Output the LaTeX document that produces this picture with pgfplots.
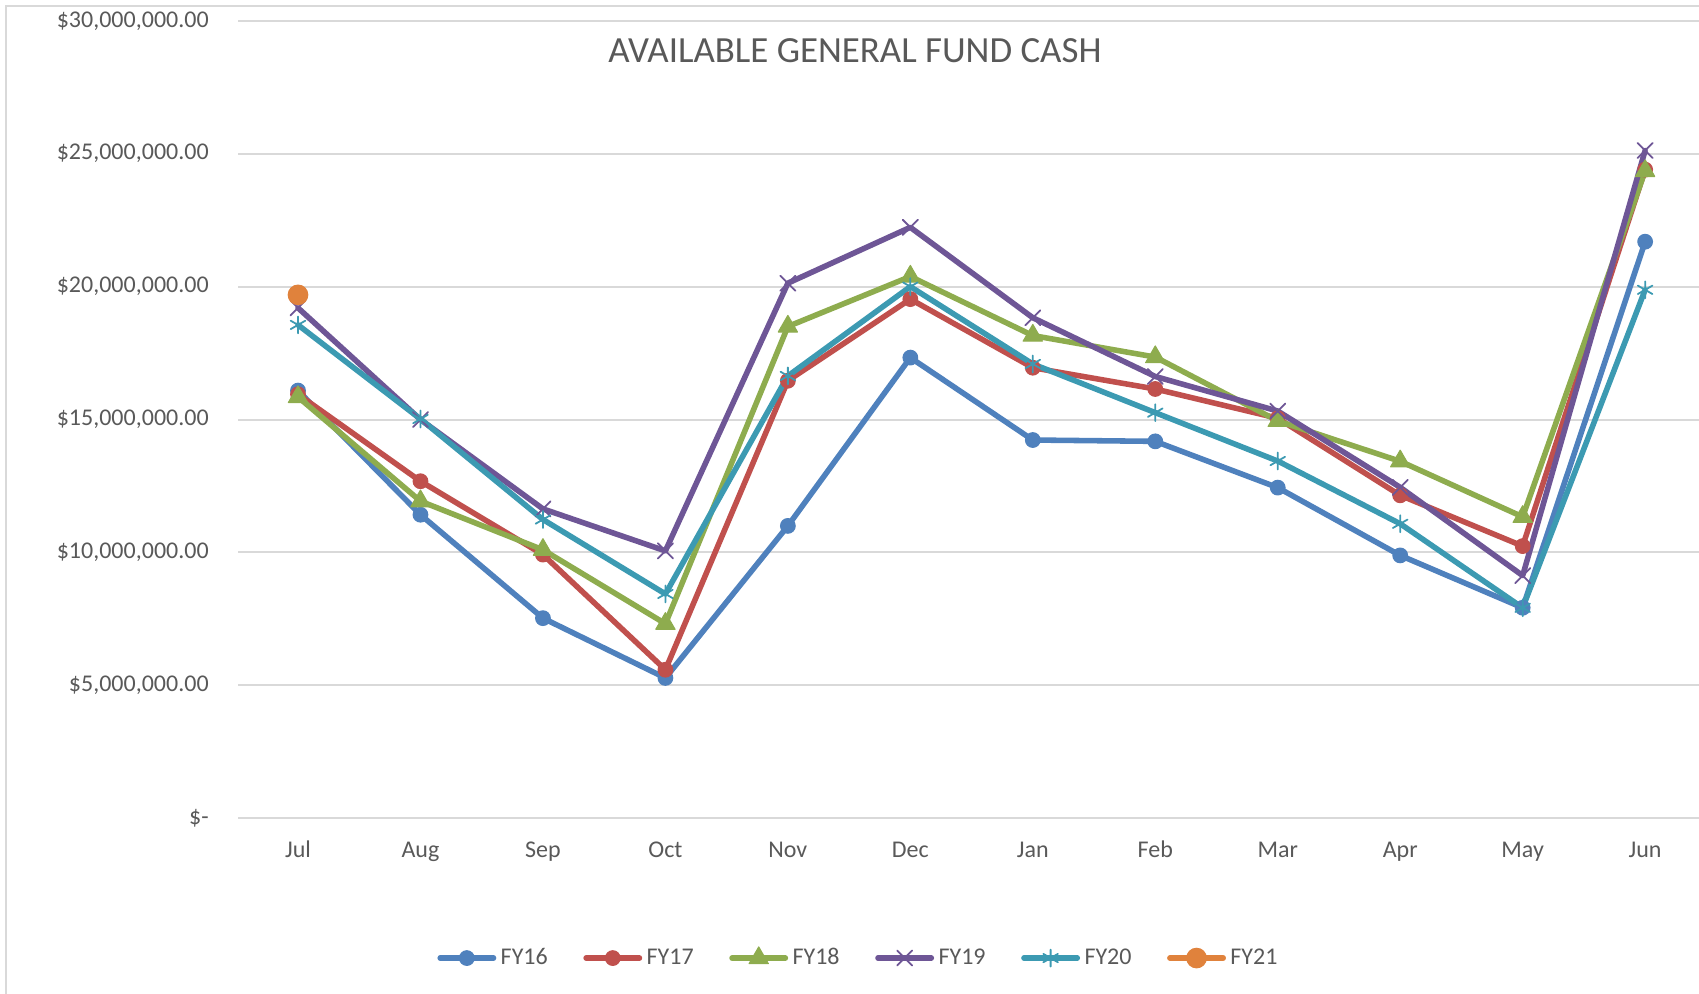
\documentclass[border=0pt]{standalone}
\usepackage{fontspec}
\setmainfont{Carlito}
\usepackage{pgfplots}
\pgfplotsset{compat=1.18}
\definecolor{cA}{HTML}{4F81BD}
\definecolor{cB}{HTML}{C0504D}
\definecolor{cC}{HTML}{8EAC4E}
\definecolor{cD}{HTML}{6E5696}
\definecolor{cE}{HTML}{3C9AB2}
\definecolor{cF}{HTML}{E0823C}
\definecolor{gridgray}{HTML}{D9D9D9}
\definecolor{labelgray}{HTML}{595959}
\begin{document}
\begin{tikzpicture}
\useasboundingbox (0,0) rectangle (764.55pt,446.85pt);
\draw[color=gridgray, line width=0.9pt] (2.7pt,-10pt) rectangle (780pt,444.15pt);
\begin{axis}[
  at={(107.1pt,78.6pt)}, anchor=south west,
  width=657.45pt, height=358.9pt, scale only axis,
  xmin=-0.49, xmax=11.44, ymin=0, ymax=30000000,
  clip=false,
  xtick={0,...,11},
  xticklabels={Jul,Aug,Sep,Oct,Nov,Dec,Jan,Feb,Mar,Apr,May,Jun},
  ytick={0,5000000,10000000,15000000,20000000,25000000,30000000},
  yticklabels={{\$-\hspace{4.5pt}},{\$5,000,000.00},{\$10,000,000.00},{\$15,000,000.00},{\$20,000,000.00},{\$25,000,000.00},{\$30,000,000.00}},
  ymajorgrids,
  grid style={color=gridgray, line width=0.9pt},
  axis line style={draw=none},
  major tick length=0pt,
  tick label style={font=\fontsize{10.8}{13}\selectfont, color=labelgray},
  yticklabel style={anchor=east, inner sep=0pt, xshift=-13pt},
  xticklabel style={anchor=base, inner sep=0pt, yshift=-17.6pt},
  /pgf/number format/assume math mode=true,
  title={AVAILABLE GENERAL FUND CASH},
  every axis title/.style={at={(0.4223,0.962)}, anchor=center, inner sep=0pt, font=\fontsize{16.6}{20}\selectfont, color=labelgray},
  legend style={at={(0.4255,-0.1752)}, anchor=center, draw=none, fill=none,
    legend columns=6, font=\fontsize{10.8}{13}\selectfont, text=labelgray,
    /tikz/every even column/.append style={column sep=14pt}},
  legend image code/.code={\draw[mark repeat=2,mark phase=2,#1] plot coordinates {(0pt,0pt)(12pt,0pt)(24pt,0pt)};},
  every axis plot/.append style={line width=2.5pt, line join=round, line cap=round},
]
\addplot[color=cA, mark=*, mark size=3.3pt, mark options={solid, fill=cA, line width=0.5pt}] coordinates {
(0,16090000) (1,11420000) (2,7530000) (3,5280000) (4,11000000) (5,17330000)
(6,14230000) (7,14180000) (8,12440000) (9,9890000) (10,7920000) (11,21690000)};
\addlegendentry{FY16}
\addplot[color=cB, mark=*, mark size=3.3pt, mark options={solid, fill=cB, line width=0.5pt}] coordinates {
(0,15950000) (1,12680000) (2,9920000) (3,5590000) (4,16460000) (5,19530000)
(6,16950000) (7,16150000) (8,15050000) (9,12150000) (10,10240000) (11,24400000)};
\addlegendentry{FY17}
\addplot[color=cC, mark=triangle*, mark size=5pt, mark options={solid, fill=cC, line width=0.5pt}] coordinates {
(0,15850000) (1,11930000) (2,10100000) (3,7320000) (4,18500000) (5,20380000)
(6,18160000) (7,17350000) (8,14950000) (9,13430000) (10,11340000) (11,24350000)};
\addlegendentry{FY18}
\addplot[color=cD, mark=x, mark size=4.8pt, mark options={solid, line width=0.8pt}] coordinates {
(0,19200000) (1,15000000) (2,11640000) (3,10060000) (4,20130000) (5,22230000)
(6,18830000) (7,16620000) (8,15320000) (9,12450000) (10,9130000) (11,25120000)};
\addlegendentry{FY19}
\addplot[color=cE, mark=asterisk, mark size=3.8pt, mark options={solid, line width=0.8pt}] coordinates {
(0,18560000) (1,15020000) (2,11240000) (3,8440000) (4,16640000) (5,20000000)
(6,17090000) (7,15260000) (8,13440000) (9,11080000) (10,7920000) (11,19880000)};
\addlegendentry{FY20}
\addplot[color=cF, mark=*, mark size=4.4pt, mark options={solid, fill=cF, line width=0.5pt}] coordinates {
(0,19690000)};
\addlegendentry{FY21}
\end{axis}
\end{tikzpicture}
\end{document}
